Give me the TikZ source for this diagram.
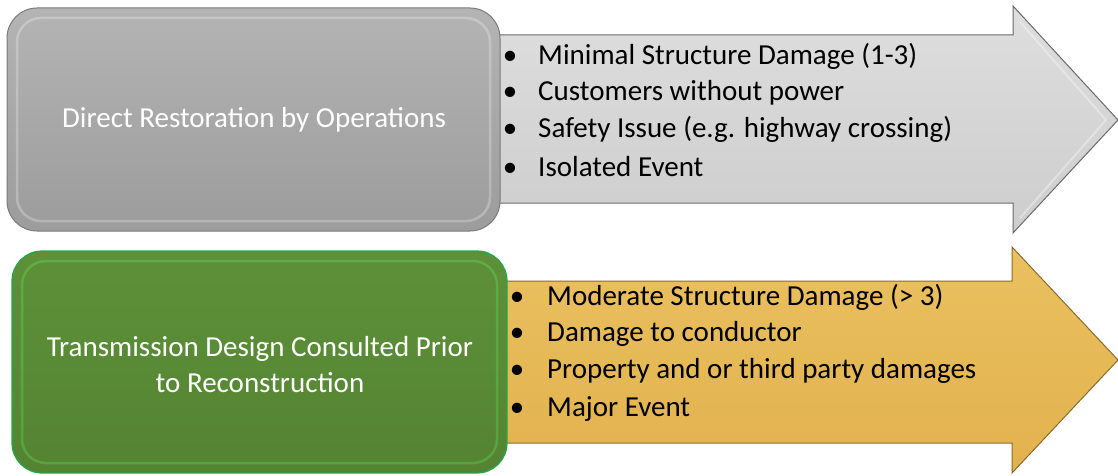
\documentclass[tikz,border=0pt]{standalone}
\usepackage{fontspec}
\setmainfont{Carlito}
\begin{document}
\begin{tikzpicture}[x=1pt,y=-1pt,
  boxtxt/.style={text=white,font=\fontsize{29}{36}\selectfont,align=center},
  itemtxt/.style={anchor=base west,inner sep=0pt,font=\fontsize{29}{36}\selectfont,text=black},
  bul/.style={anchor=base,inner sep=0pt,font=\fontsize{29}{36}\selectfont,text=black}]
\definecolor{grayA}{HTML}{B4B4B4}
\definecolor{grayB}{HTML}{9C9C9C}
\definecolor{grayEdge}{HTML}{7A7A7A}
\definecolor{arrA}{HTML}{DEDEDE}
\definecolor{arrB}{HTML}{CDCDCD}
\definecolor{arrEdge}{HTML}{6A6A6A}
\definecolor{grnA}{HTML}{5E9039}
\definecolor{grnB}{HTML}{548432}
\definecolor{grnEdge}{HTML}{22A84A}
\definecolor{ylwA}{HTML}{EAC060}
\definecolor{ylwB}{HTML}{E2B24E}
\definecolor{ylwEdge}{HTML}{8A6A2A}
\useasboundingbox (0,0) rectangle (1118,476);
% top arrow
\path[draw=arrEdge,line width=1pt,top color=arrA,bottom color=arrB]
  (490,35) -- (1013,35) -- (1013,6) -- (1118,120) -- (1013,233) -- (1013,203) -- (490,203) -- cycle;
\draw[white,opacity=0.35,line width=2pt] (1020,22) -- (1106,120) -- (1020,218);
% bottom arrow
\path[draw=ylwEdge,line width=1pt,top color=ylwA,bottom color=ylwB]
  (497,281) -- (1012,281) -- (1012,247) -- (1118,360) -- (1012,473) -- (1012,443) -- (497,443) -- cycle;
% boxes
\node[draw=grayEdge,line width=1pt,rounded corners=30pt,top color=grayA,bottom color=grayB,
  minimum width=493pt,minimum height=223pt,inner sep=0pt] (b1) at (253.5,119.5) {};
\draw[white,opacity=0.25,line width=2.5pt,rounded corners=24pt] (17,18) rectangle (490,221);
\node[boxtxt] (t1) at (254,120) {Direct Restoration by Operations};
\node[draw=grnEdge,line width=1.2pt,rounded corners=30pt,top color=grnA,bottom color=grnB,
  minimum width=495pt,minimum height=222pt,inner sep=0pt] (b2) at (259.5,362) {};
\draw[green!60!white,opacity=0.25,line width=2.5pt,rounded corners=24pt] (22,261) rectangle (497,463);
\node[boxtxt] (t2) at (260,365) {Transmission Design Consulted Prior\\to Reconstruction};
% top bullets
\node[bul] (ba1) at (510,65) {•};
\node[itemtxt] (ia1) at (538,65) {Minimal Structure Damage (1-3)};
\node[bul] (ba2) at (510,101) {•};
\node[itemtxt] (ia2) at (538,101) {Customers without power};
\node[bul] (ba3) at (510,138) {•};
\node[itemtxt] (ia3) at (538,138) {Safety Issue (e.g. highway crossing)};
\node[bul] (ba4) at (510,176) {•};
\node[itemtxt] (ia4) at (538,176) {Isolated Event};
% bottom bullets
\node[bul] (bb1) at (517,305) {•};
\node[itemtxt] (ib1) at (547,305) {Moderate Structure Damage (> 3)};
\node[bul] (bb2) at (517,341) {•};
\node[itemtxt] (ib2) at (547,341) {Damage to conductor};
\node[bul] (bb3) at (517,378) {•};
\node[itemtxt] (ib3) at (547,378) {Property and or third party damages};
\node[bul] (bb4) at (517,416) {•};
\node[itemtxt] (ib4) at (547,416) {Major Event};
\end{tikzpicture}
\end{document}
